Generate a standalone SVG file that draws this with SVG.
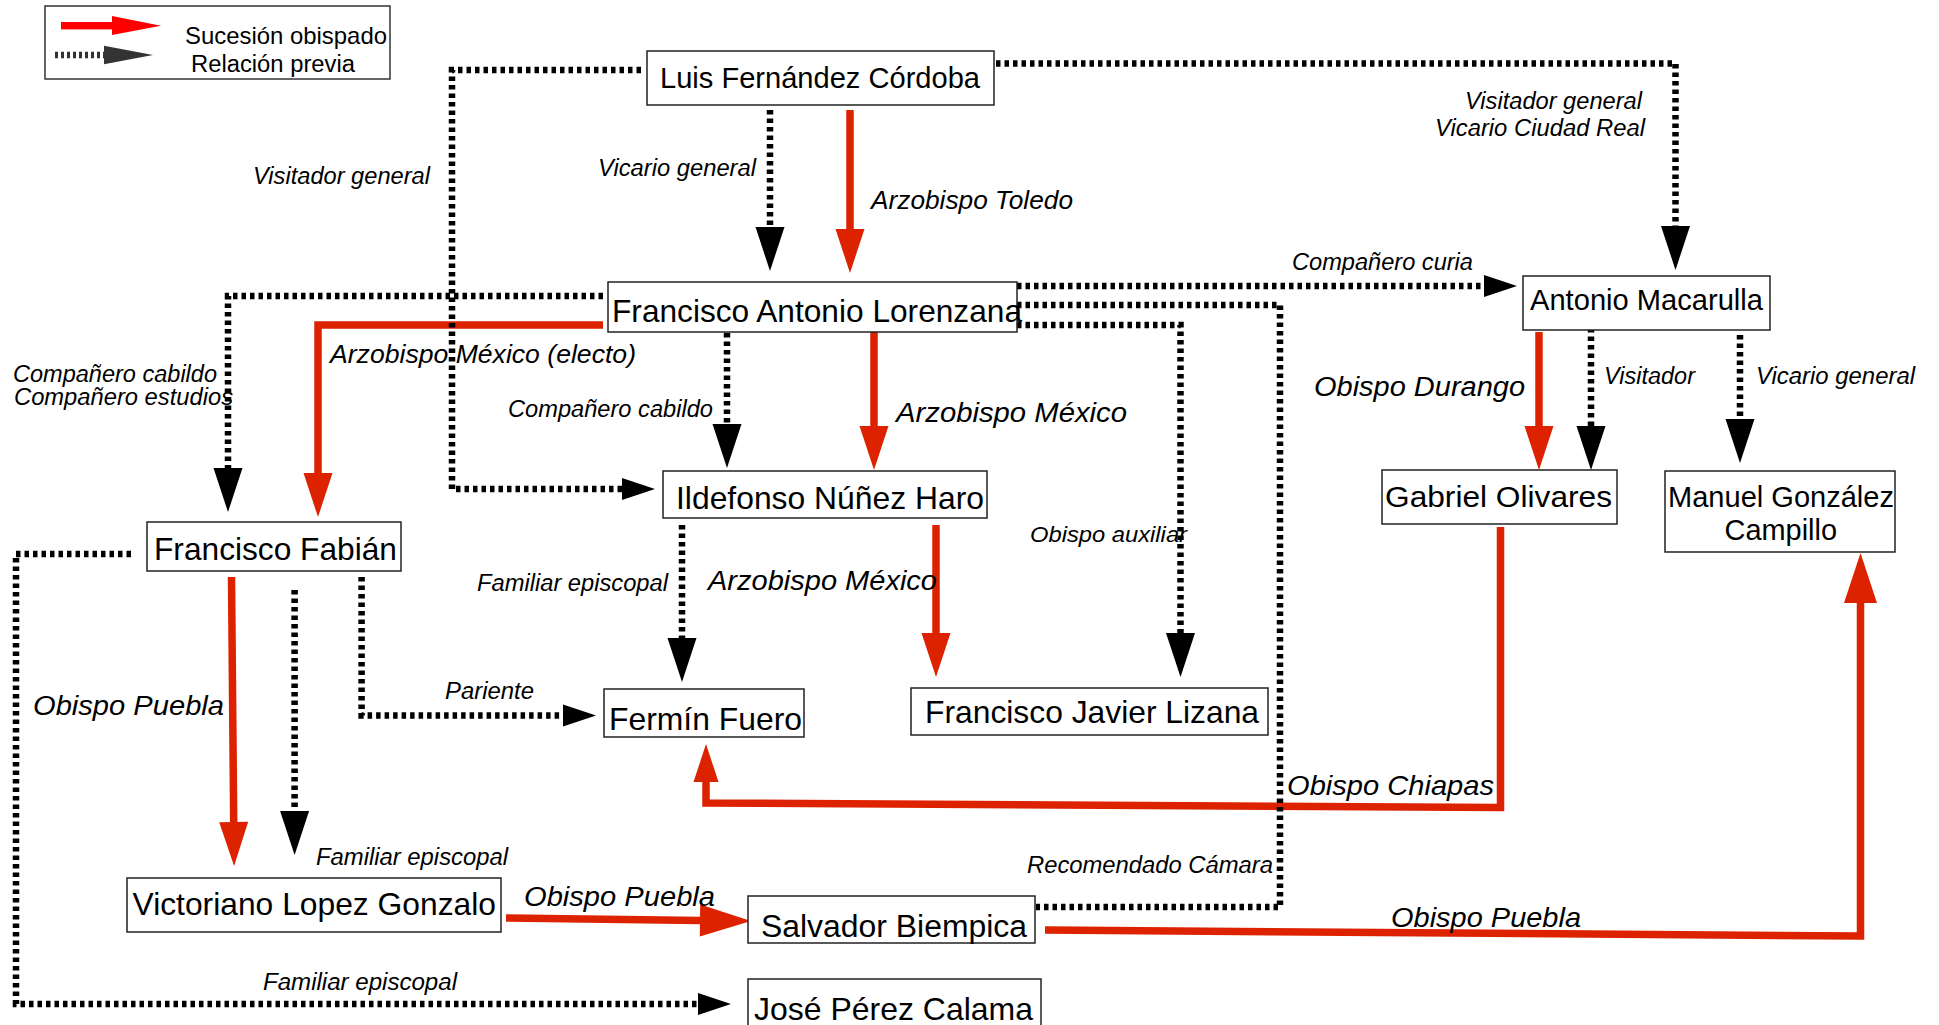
<svg xmlns="http://www.w3.org/2000/svg" width="1939" height="1025" viewBox="0 0 1939 1025">
<style>
.box{fill:#fff;stroke:#222;stroke-width:1.5}
.nt{font-family:"Liberation Sans",Arial,sans-serif;fill:#000}
.lb{font-family:"Liberation Sans",Arial,sans-serif;font-style:italic;fill:#000}
.red{fill:none;stroke:#dd2200;stroke-width:7.5}
.dot{fill:none;stroke:#000;stroke-width:6.5;stroke-dasharray:4.5 4}
</style>
<defs>
<marker id="hR" markerUnits="userSpaceOnUse" orient="auto" markerWidth="44" markerHeight="29" refX="0" refY="14.5" overflow="visible"><path d="M0,0L44,14.5L0,29Z" fill="#dd2200"/></marker>
<marker id="hRb" markerUnits="userSpaceOnUse" orient="auto" markerWidth="51" markerHeight="32" refX="0" refY="16" overflow="visible"><path d="M0,0L51,16L0,32Z" fill="#dd2200"/></marker>
<marker id="hRm" markerUnits="userSpaceOnUse" orient="auto" markerWidth="50" markerHeight="33" refX="0" refY="16.5" overflow="visible"><path d="M0,0L50,16.5L0,33Z" fill="#dd2200"/></marker>
<marker id="hRs" markerUnits="userSpaceOnUse" orient="auto" markerWidth="38" markerHeight="25" refX="0" refY="12.5" overflow="visible"><path d="M0,0L38,12.5L0,25Z" fill="#dd2200"/></marker>
<marker id="hB" markerUnits="userSpaceOnUse" orient="auto" markerWidth="44" markerHeight="29" refX="0" refY="14.5" overflow="visible"><path d="M0,0L44,14.5L0,29Z" fill="#000"/></marker>
<marker id="hBs" markerUnits="userSpaceOnUse" orient="auto" markerWidth="33" markerHeight="22" refX="0" refY="11" overflow="visible"><path d="M0,0L33,11L0,22Z" fill="#000"/></marker>
</defs>

<g id="legend">
<rect x="45" y="6" width="345" height="73" fill="#fff" stroke="#333" stroke-width="1.5"/>
<rect x="61" y="22" width="52" height="7.4" fill="#ff0000"/>
<path d="M112,16L161,25.7L112,35Z" fill="#ff0000"/>
<line x1="55" y1="55" x2="104" y2="55" stroke="#333" stroke-width="6.5" stroke-dasharray="3 3"/>
<path d="M104,45.7L153,55L104,64.3Z" fill="#333"/>
<text class="nt" x="185" y="43.5" font-size="24" textLength="202" lengthAdjust="spacingAndGlyphs">Sucesión obispado</text>
<text class="nt" x="191" y="71.5" font-size="23" textLength="164" lengthAdjust="spacingAndGlyphs">Relación previa</text>
</g>

<g id="connectors">
<path class="red" d="M850,110V229" marker-end="url(#hR)"/>
<path class="red" d="M603,325H318V473" marker-end="url(#hR)"/>
<path class="red" d="M874,332V426" marker-end="url(#hR)"/>
<path class="red" d="M936,525V633" marker-end="url(#hR)"/>
<path class="red" d="M231.5,577L233.7,822" marker-end="url(#hR)"/>
<path class="red" d="M506,918L700,920.4" marker-end="url(#hRb)"/>
<path class="red" d="M1045,930L1860.5,936V603" marker-end="url(#hRm)"/>
<path class="red" d="M1500.5,527V807.5L706,803V782" marker-end="url(#hRs)"/>
<path class="red" d="M1539,332V426" marker-end="url(#hR)"/>

<path class="dot" d="M770,110V227" marker-end="url(#hB)"/>
<path class="dot" d="M641,70H452V489H622" marker-end="url(#hBs)"/>
<path class="dot" d="M603,296H228V468" marker-end="url(#hB)"/>
<path class="dot" d="M727,333V424" marker-end="url(#hB)"/>
<path class="dot" d="M1017,286H1484" marker-end="url(#hBs)"/>
<path class="dot" d="M1017,325H1180.5V633" marker-end="url(#hB)"/>
<path class="dot" d="M1017,305H1280V907H1036"/>
<path class="dot" d="M996,63.5H1675.5V226" marker-end="url(#hB)"/>
<path class="dot" d="M1591,328V426" marker-end="url(#hB)"/>
<path class="dot" d="M1740,335V419" marker-end="url(#hB)"/>
<path class="dot" d="M682,525V638" marker-end="url(#hB)"/>
<path class="dot" d="M294.6,590V811" marker-end="url(#hB)"/>
<path class="dot" d="M361.6,577V715.5H563" marker-end="url(#hBs)"/>
<path class="dot" d="M131,554H16V1004H698" marker-end="url(#hBs)"/>

<text class="lb" x="871" y="208.5" font-size="26" textLength="202" lengthAdjust="spacingAndGlyphs">Arzobispo Toledo</text>
<text class="lb" x="598" y="176" font-size="23.7" textLength="158" lengthAdjust="spacingAndGlyphs">Vicario general</text>
<text class="lb" x="253" y="183.5" font-size="23.7" textLength="177" lengthAdjust="spacingAndGlyphs">Visitador general</text>
<text class="lb" x="1465" y="108.5" font-size="23.7" textLength="177" lengthAdjust="spacingAndGlyphs">Visitador general</text>
<text class="lb" x="1435" y="136" font-size="23.7" textLength="210" lengthAdjust="spacingAndGlyphs">Vicario Ciudad Real</text>
<text class="lb" x="1292" y="269.5" font-size="23.7" textLength="181" lengthAdjust="spacingAndGlyphs">Compañero curia</text>
<text class="lb" x="330" y="363" font-size="25.5" textLength="306" lengthAdjust="spacingAndGlyphs">Arzobispo México (electo)</text>
<text class="lb" x="13" y="382" font-size="23.7" textLength="204" lengthAdjust="spacingAndGlyphs">Compañero cabildo</text>
<text class="lb" x="14" y="404.5" font-size="23.7" textLength="219" lengthAdjust="spacingAndGlyphs">Compañero estudios</text>
<text class="lb" x="508" y="416.5" font-size="23.7" textLength="205" lengthAdjust="spacingAndGlyphs">Compañero cabildo</text>
<text class="lb" x="896" y="422" font-size="27.5" textLength="231" lengthAdjust="spacingAndGlyphs">Arzobispo México</text>
<text class="lb" x="1314" y="395.5" font-size="27" textLength="211" lengthAdjust="spacingAndGlyphs">Obispo Durango</text>
<text class="lb" x="1604" y="383.5" font-size="23.5" textLength="91" lengthAdjust="spacingAndGlyphs">Visitador</text>
<text class="lb" x="1756" y="383.5" font-size="23.7" textLength="159" lengthAdjust="spacingAndGlyphs">Vicario general</text>
<text class="lb" x="1030" y="542" font-size="21.5" textLength="157" lengthAdjust="spacingAndGlyphs">Obispo auxiliar</text>
<text class="lb" x="477" y="590.5" font-size="23.7" textLength="191" lengthAdjust="spacingAndGlyphs">Familiar episcopal</text>
<text class="lb" x="708" y="590" font-size="27.5" textLength="229" lengthAdjust="spacingAndGlyphs">Arzobispo México</text>
<text class="lb" x="33" y="714.5" font-size="27.3" textLength="191" lengthAdjust="spacingAndGlyphs">Obispo Puebla</text>
<text class="lb" x="445" y="698.5" font-size="23.7" textLength="89" lengthAdjust="spacingAndGlyphs">Pariente</text>
<text class="lb" x="316" y="864.5" font-size="23.7" textLength="192" lengthAdjust="spacingAndGlyphs">Familiar episcopal</text>
<text class="lb" x="524" y="905.5" font-size="27.3" textLength="191" lengthAdjust="spacingAndGlyphs">Obispo Puebla</text>
<text class="lb" x="263" y="989.5" font-size="23.7" textLength="194" lengthAdjust="spacingAndGlyphs">Familiar episcopal</text>
<text class="lb" x="1287" y="794.5" font-size="27.3" textLength="207" lengthAdjust="spacingAndGlyphs">Obispo Chiapas</text>
<text class="lb" x="1027" y="872.5" font-size="23.7" textLength="246" lengthAdjust="spacingAndGlyphs">Recomendado Cámara</text>
<text class="lb" x="1391" y="927" font-size="27.3" textLength="190" lengthAdjust="spacingAndGlyphs">Obispo Puebla</text>
</g>

<g id="n-luis"><rect class="box" x="647" y="51" width="347" height="54"/><text class="nt" x="660" y="88.3" font-size="29" textLength="320" lengthAdjust="spacingAndGlyphs">Luis Fernández Córdoba</text></g>
<g id="n-lorenzana"><rect class="box" x="608" y="282" width="409" height="50"/><text class="nt" x="612" y="322" font-size="31.5" textLength="410" lengthAdjust="spacingAndGlyphs">Francisco Antonio Lorenzana</text></g>
<g id="n-macarulla"><rect class="box" x="1523" y="276" width="247" height="54"/><text class="nt" x="1530" y="309.5" font-size="29" textLength="233" lengthAdjust="spacingAndGlyphs">Antonio Macarulla</text></g>
<g id="n-nunez"><rect class="box" x="663" y="471" width="324" height="47"/><text class="nt" x="676" y="508.5" font-size="31.5" textLength="308" lengthAdjust="spacingAndGlyphs">Ildefonso Núñez Haro</text></g>
<g id="n-fabian"><rect class="box" x="147" y="522" width="254" height="49"/><text class="nt" x="154" y="559.5" font-size="31.5" textLength="243" lengthAdjust="spacingAndGlyphs">Francisco Fabián</text></g>
<g id="n-olivares"><rect class="box" x="1382" y="470" width="235" height="54"/><text class="nt" x="1385" y="507" font-size="30" textLength="227" lengthAdjust="spacingAndGlyphs">Gabriel Olivares</text></g>
<g id="n-campillo"><rect class="box" x="1665" y="471" width="230" height="81"/><text class="nt" x="1668" y="506.5" font-size="29" textLength="226" lengthAdjust="spacingAndGlyphs">Manuel González</text><text class="nt" x="1724.5" y="539.5" font-size="29" textLength="112.5" lengthAdjust="spacingAndGlyphs">Campillo</text></g>
<g id="n-fuero"><rect class="box" x="604" y="689" width="200" height="48"/><text class="nt" x="609" y="729.5" font-size="31.5" textLength="193" lengthAdjust="spacingAndGlyphs">Fermín Fuero</text></g>
<g id="n-lizana"><rect class="box" x="911" y="688" width="357" height="47"/><text class="nt" x="925" y="722.5" font-size="31.5" textLength="334" lengthAdjust="spacingAndGlyphs">Francisco Javier Lizana</text></g>
<g id="n-lopez"><rect class="box" x="127" y="878" width="374" height="54"/><text class="nt" x="132.5" y="915" font-size="32" textLength="363.5" lengthAdjust="spacingAndGlyphs">Victoriano Lopez Gonzalo</text></g>
<g id="n-biempica"><rect class="box" x="748" y="896" width="287" height="47"/><text class="nt" x="761" y="936.5" font-size="31" textLength="266" lengthAdjust="spacingAndGlyphs">Salvador Biempica</text></g>
<g id="n-calama"><rect class="box" x="748" y="979" width="293" height="60"/><text class="nt" x="754" y="1019.5" font-size="32" textLength="279" lengthAdjust="spacingAndGlyphs">José Pérez Calama</text></g>
</svg>
